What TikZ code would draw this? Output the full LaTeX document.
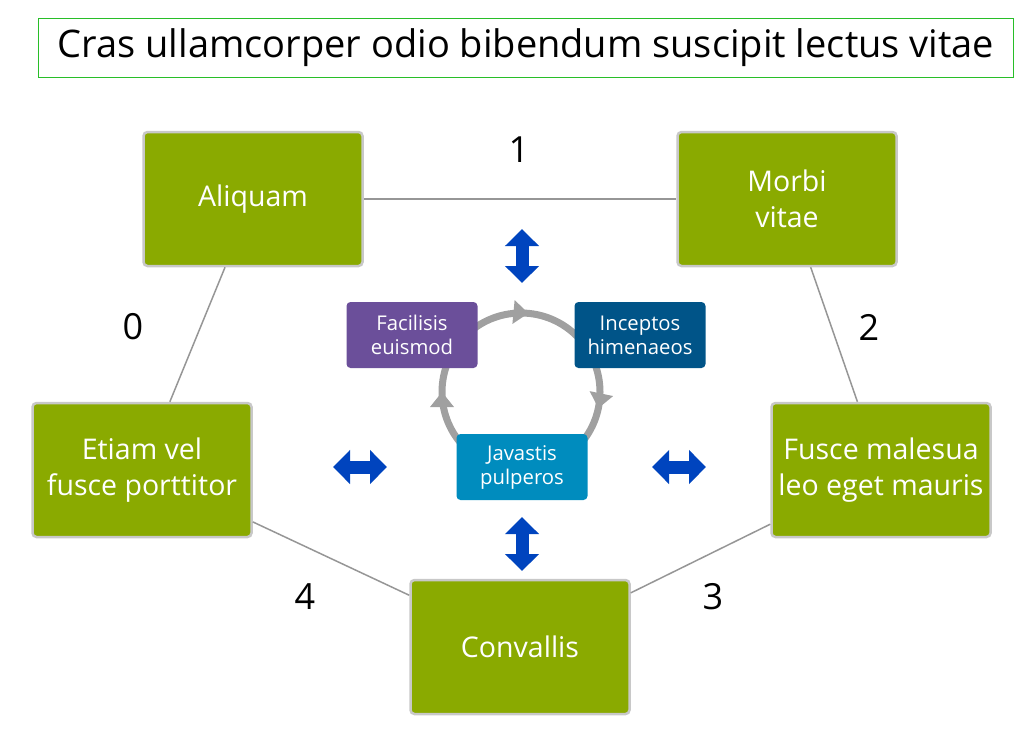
\documentclass[tikz,border=0pt]{standalone}
\usepackage{fontspec}
\setmainfont{Open Sans}
\usetikzlibrary{arrows.meta,decorations.markings}
\definecolor{boxgreen}{RGB}{138,170,0}
\definecolor{boxrim}{RGB}{200,200,200}
\definecolor{titlegreen}{RGB}{40,190,40}
\definecolor{linkgray}{RGB}{150,150,150}
\definecolor{ringgray}{RGB}{160,160,160}
\definecolor{facpurple}{RGB}{107,79,154}
\definecolor{incblue}{RGB}{0,84,136}
\definecolor{javblue}{RGB}{0,140,190}
\definecolor{arrblue}{RGB}{0,68,190}

\begin{document}
\begin{tikzpicture}[x=1pt,y=-1pt,
			titlebox/.style={draw=titlegreen,line width=1.5pt,minimum width=975pt,minimum height=59pt,font=\fontsize{38}{44}\selectfont},
			bigbox/.style={draw=boxrim,line width=2.5pt,fill=boxgreen,rounded corners=4pt,minimum width=219pt,minimum height=134pt,text=white,align=center,font=\fontsize{28.5}{36}\selectfont},
			smallbox/.style={rounded corners=4pt,minimum width=131pt,minimum height=66pt,text=white,align=center,font=\fontsize{20.3}{24}\selectfont},
			link/.style={draw=linkgray,line width=1.5pt},
			num/.style={font=\fontsize{36}{40}\selectfont},
			ring/.style={draw=ringgray,line width=7pt,decoration={markings,
					mark=at position 0.033 with {\arrow[ringgray]{Triangle[width=23pt,length=15pt]}},
					mark=at position 0.5 with {\arrow[ringgray]{Triangle[width=23pt,length=15pt]}},
					mark=at position 0.765 with {\arrow[ringgray]{Triangle[width=23pt,length=15pt]}}},postaction=decorate},
			dblarr/.style={draw=arrblue,line width=13pt,{Triangle[width=33pt,length=17pt]}-{Triangle[width=33pt,length=17pt]}},
		]
		\useasboundingbox (0,0) rectangle (1024,734);
		\node[titlebox] (ttl) at (526,48) {Cras ullamcorper odio bibendum suscipit lectus vitae};

		\node[bigbox] (aliq) at (253,199) {Aliquam};
		\node[bigbox] (morbi) at (787,199) {Morbi\\vitae};
		\node[bigbox] (etiam) at (142,470) {Etiam vel\\fusce porttitor};
		\node[bigbox] (fusce) at (881,470) {Fusce malesua\\leo eget mauris};
		\node[bigbox] (conv) at (520,647) {Convallis};

		\draw[link] (aliq) -- (morbi);
		\draw[link] (aliq) -- (etiam);
		\draw[link] (morbi) -- (fusce);
		\draw[link] (etiam) -- (conv);
		\draw[link] (fusce) -- (conv);

		\node[num] (n1) at (519,150) {1};
		\node[num] (n0) at (133,327) {0};
		\node[num] (n2) at (869,327) {2};
		\node[num] (n3) at (713,597) {3};
		\node[num] (n4) at (305,597) {4};

		\coordinate (cyc) at (521,392);
		\draw[ring] (cyc) ++(0:79) arc[start angle=0,end angle=360,radius=79];

		\node[smallbox,fill=facpurple] (fac) at (412,335) {Facilisis\\euismod};
		\node[smallbox,fill=incblue] (inc) at (640,335) {Inceptos\\himenaeos};
		\node[smallbox,fill=javblue] (jav) at (522,467) {Javastis\\pulperos};

		\coordinate (up1) at (522,229);
		\coordinate (up2) at (522,283);
		\coordinate (dn1) at (522,517);
		\coordinate (dn2) at (522,571);
		\coordinate (lf1) at (333,467);
		\coordinate (lf2) at (387,467);
		\coordinate (rt1) at (652,467);
		\coordinate (rt2) at (706,467);
		\draw[dblarr] (up1) -- (up2);
		\draw[dblarr] (dn1) -- (dn2);
		\draw[dblarr] (lf1) -- (lf2);
		\draw[dblarr] (rt1) -- (rt2);
\end{tikzpicture}
\end{document}
